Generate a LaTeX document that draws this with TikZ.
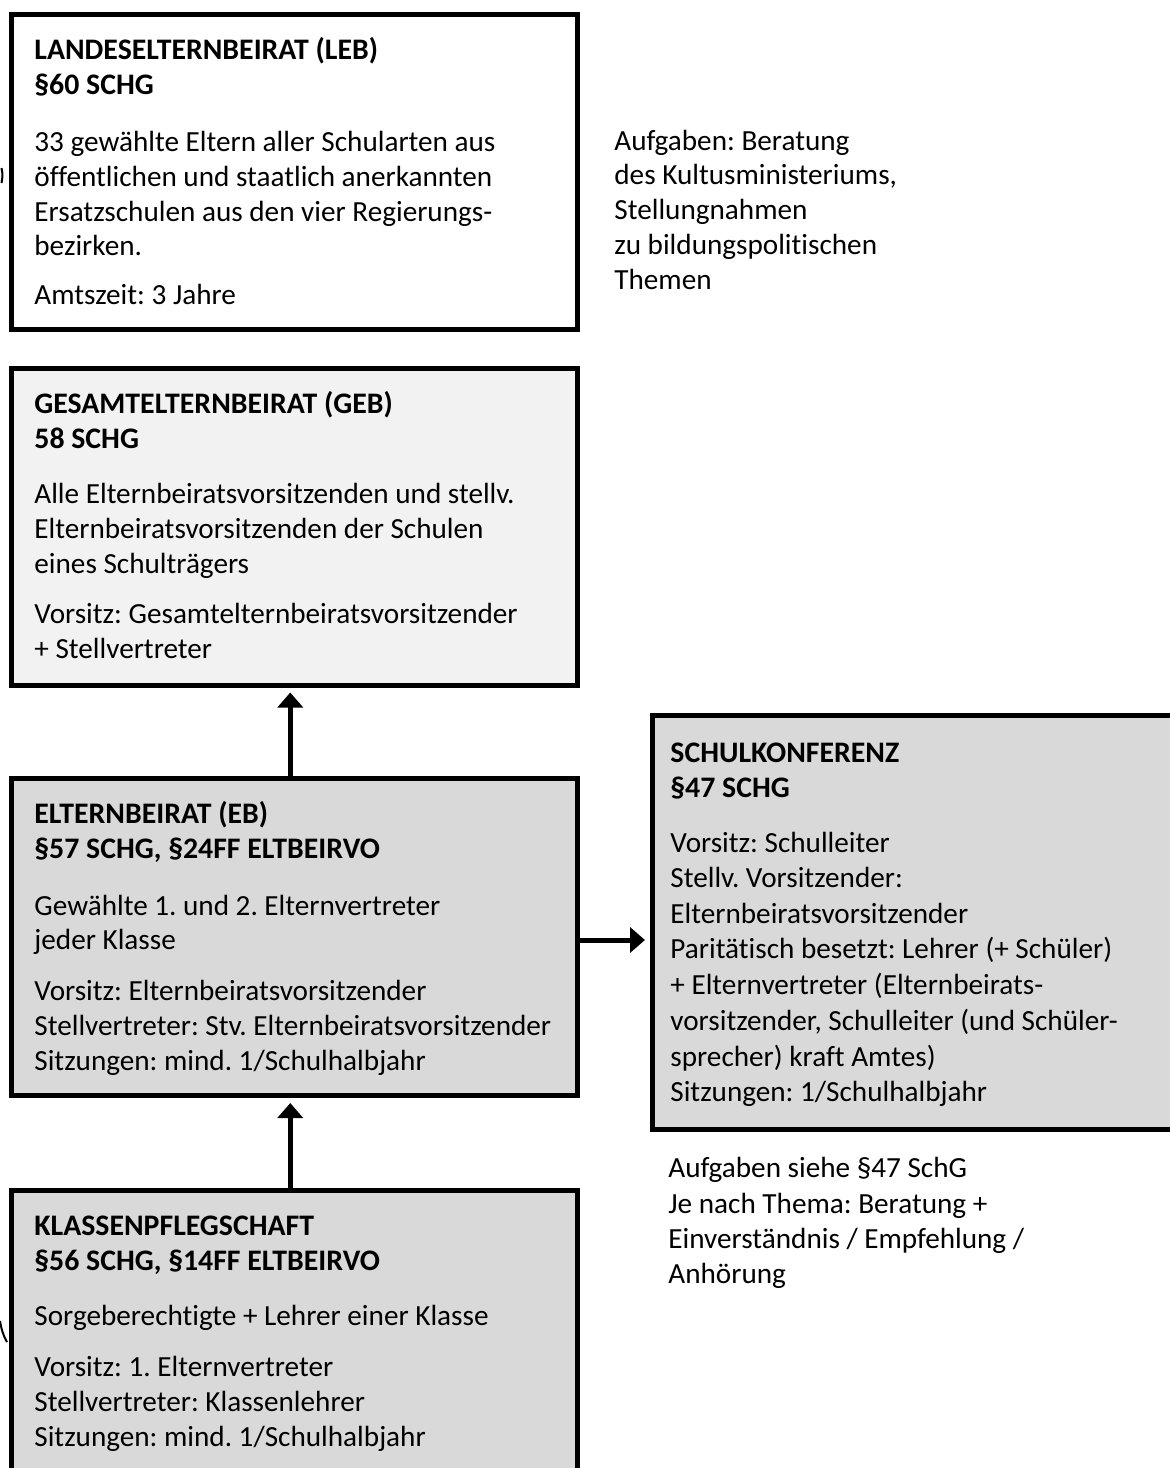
\documentclass[tikz,border=0pt]{standalone}
\usepackage{fontspec}
\setmainfont{Carlito}[Ligatures={NoCommon,NoContextual}]
\usetikzlibrary{arrows.meta,fit}
\definecolor{boxlight}{HTML}{F2F2F2}
\definecolor{boxgrey}{HTML}{D9D9D9}
\begin{document}
\frenchspacing
\begin{tikzpicture}[x=0.5pt,y=-0.5pt,
  box/.style={draw=black,line width=2.5pt,inner sep=0pt,rectangle},
  txt/.style={anchor=base west,inner sep=0pt,font=\fontsize{14.6pt}{17.5pt}\selectfont},
  hd/.style={anchor=base west,inner sep=0pt,font=\fontsize{14.9pt}{17.5pt}\selectfont\bfseries},
  link/.style={line width=2.5pt,-{Triangle[length=7.5pt,width=12.5pt]}}]
\useasboundingbox (0,0) rectangle (1170,1468);
\clip (0,0) rectangle (1170,1468);
% boxes
\node[box,fill=white,fit={(11.5,14.5) (577,329.5)}] (leb) {};
\node[box,fill=boxlight,fit={(11.5,368) (577,685)}] (geb) {};
\node[box,fill=boxgrey,fit={(11.5,778.5) (577,1095.5)}] (eb) {};
\node[box,fill=boxgrey,fit={(11.5,1190.5) (577,1520)}] (kp) {};
\node[box,fill=boxgrey,fit={(652.5,715.5) (1220,1129.5)}] (sk) {};
% connectors
\draw[link,shorten >=2.5pt] ([xshift=-2pt]eb.north) -- ([xshift=-2pt]geb.south);
\draw[link,shorten >=2.5pt] ([xshift=-2pt]kp.north) -- ([xshift=-2pt]eb.south);
\draw[link,shorten >=2.5pt] ([yshift=-1.5pt]eb.east) -- ([yshift=-1.5pt]eb.east -| sk.west);
% edge fragments
\draw[line width=1pt] (1.5,168) .. controls (2.8,175) .. (1.5,183);
\draw[line width=1pt] (0,1321) .. controls (1.5,1330) and (3.5,1336) .. (7,1342);
% LEB
\node[hd] (leb1) at (34,59) {LANDESELTERNBEIRAT (LEB)};
\node[hd] (leb2) at (34,94) {§60 SCHG};
\node[txt] (leb3) at (34,151) {33 gewählte Eltern aller Schularten aus};
\node[txt] (leb4) at (34,186) {öffentlichen und staatlich anerkannten};
\node[txt] (leb5) at (34,221) {Ersatzschulen aus den vier Regierungs-};
\node[txt] (leb6) at (34,255) {bezirken.};
\node[txt] (leb7) at (34,304) {Amtszeit: 3 Jahre};
% LEB tasks
\node[txt] (ta1) at (614,150) {Aufgaben: Beratung};
\node[txt] (ta2) at (614,184) {des Kultusministeriums,};
\node[txt] (ta3) at (614,219) {Stellungnahmen};
\node[txt] (ta4) at (614,254) {zu bildungspolitischen};
\node[txt] (ta5) at (614,289) {Themen};
% GEB
\node[hd] (geb1) at (34,413) {GESAMTELTERNBEIRAT (GEB)};
\node[hd] (geb2) at (34,448) {58 SCHG};
\node[txt] (geb3) at (34,503) {Alle Elternbeiratsvorsitzenden und stellv.};
\node[txt] (geb4) at (34,538) {Elternbeiratsvorsitzenden der Schulen};
\node[txt] (geb5) at (34,573) {eines Schulträgers};
\node[txt] (geb6) at (34,623) {Vorsitz: Gesamtelternbeiratsvorsitzender};
\node[txt] (geb7) at (34,658) {+ Stellvertreter};
% EB
\node[hd] (eb1) at (34,823) {ELTERNBEIRAT (EB)};
\node[hd] (eb2) at (34,858) {§57 SCHG, §24FF ELTBEIRVO};
\node[txt] (eb3) at (34,915) {Gewählte 1. und 2. Elternvertreter};
\node[txt] (eb4) at (34,949) {jeder Klasse};
\node[txt] (eb5) at (34,1000) {Vorsitz: Elternbeiratsvorsitzender};
\node[txt] (eb6) at (34,1035) {Stellvertreter: Stv. Elternbeiratsvorsitzender};
\node[txt] (eb7) at (34,1070) {Sitzungen: mind. 1/Schulhalbjahr};
% KP
\node[hd] (kp1) at (34,1235) {KLASSENPFLEGSCHAFT};
\node[hd] (kp2) at (34,1270) {§56 SCHG, §14FF ELTBEIRVO};
\node[txt] (kp3) at (34,1325) {Sorgeberechtigte + Lehrer einer Klasse};
\node[txt] (kp4) at (34,1376) {Vorsitz: 1. Elternvertreter};
\node[txt] (kp5) at (34,1411) {Stellvertreter: Klassenlehrer};
\node[txt] (kp6) at (34,1446) {Sitzungen: mind. 1/Schulhalbjahr};
% SK
\node[hd] (sk1) at (670,762) {SCHULKONFERENZ};
\node[hd] (sk2) at (670,797) {§47 SCHG};
\node[txt] (sk3) at (670,852) {Vorsitz: Schulleiter};
\node[txt] (sk4) at (670,887) {Stellv. Vorsitzender:};
\node[txt] (sk5) at (670,923) {Elternbeiratsvorsitzender};
\node[txt] (sk6) at (670,958) {Paritätisch besetzt: Lehrer (+ Schüler)};
\node[txt] (sk7) at (670,994) {+ Elternvertreter (Elternbeirats-};
\node[txt] (sk8) at (670,1030) {vorsitzender, Schulleiter (und Schüler-};
\node[txt] (sk9) at (670,1066) {sprecher) kraft Amtes)};
\node[txt] (sk10) at (670,1101) {Sitzungen: 1/Schulhalbjahr};
% SK tasks
\node[txt] (tb1) at (668,1177) {Aufgaben siehe §47 SchG};
\node[txt] (tb2) at (668,1213) {Je nach Thema: Beratung +};
\node[txt] (tb3) at (668,1248) {Einverständnis / Empfehlung /};
\node[txt] (tb4) at (668,1283) {Anhörung};
\end{tikzpicture}
\end{document}
